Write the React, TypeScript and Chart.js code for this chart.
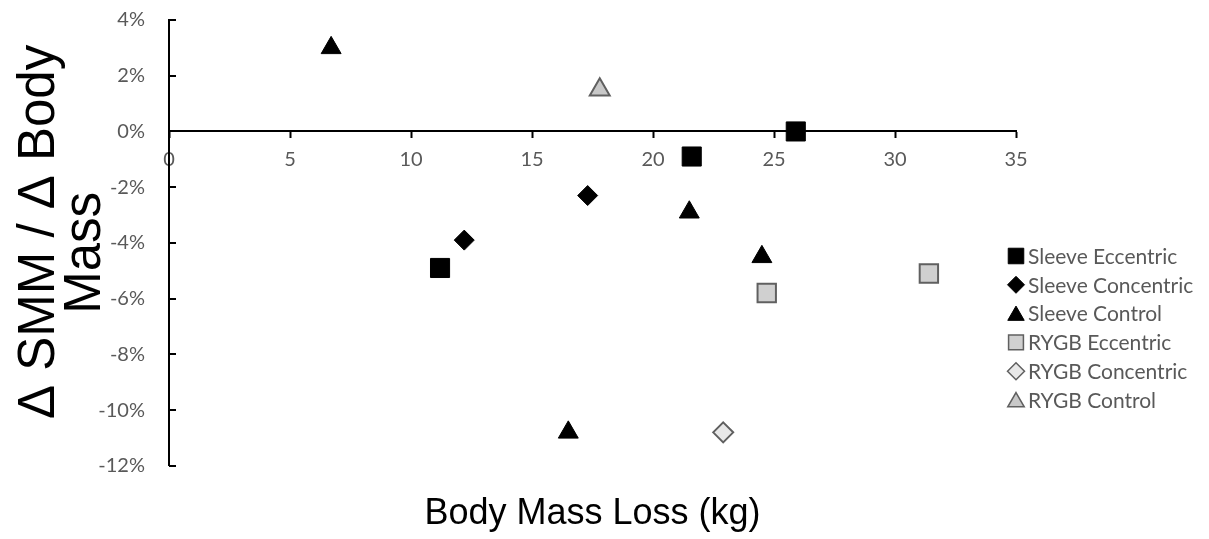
import React, { useEffect, useRef } from "react";
import { Chart, registerables, PointElement } from "chart.js";

Chart.register(...registerables);

// ---- data (x: body mass loss kg, y: Δ SMM / Δ body mass in %) ----
const sleeveEccentricX = [11.2, 21.6, 25.9];
const sleeveEccentricY = [-4.9, -0.9, 0.0];
const sleeveConcentricX = [12.2, 17.3];
const sleeveConcentricY = [-3.9, -2.3];
const sleeveControlX = [6.7, 21.5, 24.5, 16.5];
const sleeveControlY = [3.0, -2.9, -4.5, -10.8];
const rygbEccentricX = [24.7, 31.4];
const rygbEccentricY = [-5.8, -5.1];
const rygbConcentricX = [22.9];
const rygbConcentricY = [-10.8];
const rygbControlX = [17.8];
const rygbControlY = [1.5];

const seriesNames = [
  "Sleeve Eccentric",
  "Sleeve Concentric",
  "Sleeve Control",
  "RYGB Eccentric",
  "RYGB Concentric",
  "RYGB Control",
];

const xTitle = "Body Mass Loss (kg)";
const yTitleLines = ["Δ SMM / Δ Body", "Mass"];
const xMin = 0, xMax = 35, xStep = 5;
const yMin = -12, yMax = 4, yStep = 2;

const TICK_FONT = "Lato";
const TICK_COLOR = "#595959";
const GREY_BORDER = "#606060";

const pts = (xs: number[], ys: number[]) => xs.map((x, i) => ({ x, y: ys[i] }));

type Style = { pointStyle: any; radius: number; bg: string; border: string; bw: number; lr: number };
const styles: Style[] = [
  { pointStyle: "rect", radius: 13.5, bg: "#000000", border: "#000000", bw: 1, lr: 11 },
  { pointStyle: "rectRot", radius: 10, bg: "#000000", border: "#000000", bw: 1, lr: 8.5 },
  { pointStyle: "triangle", radius: 11.5, bg: "#000000", border: "#000000", bw: 1, lr: 9.5 },
  { pointStyle: "rect", radius: 13, bg: "#d0d0d0", border: GREY_BORDER, bw: 2, lr: 10.5 },
  { pointStyle: "rectRot", radius: 10, bg: "#e8e8e8", border: GREY_BORDER, bw: 2, lr: 8.5 },
  { pointStyle: "triangle", radius: 11.5, bg: "#c8c8c8", border: GREY_BORDER, bw: 2, lr: 9.5 },
];

const yTicksInside = {
  id: "yTicksInside",
  afterDatasetsDraw(chart: any) {
    const { ctx } = chart;
    const ys = chart.scales.y;
    ctx.save();
    ctx.strokeStyle = "#000";
    ctx.lineWidth = 2;
    for (let v = yMin; v <= yMax; v += yStep) {
      const py = Math.round(ys.getPixelForValue(v));
      ctx.beginPath();
      ctx.moveTo(ys.right, py);
      ctx.lineTo(ys.right + 7, py);
      ctx.stroke();
    }
    ctx.restore();
  },
};

const yTitlePlugin = {
  id: "yTitlePlugin",
  afterDraw(chart: any) {
    const { ctx, chartArea } = chart;
    const cy = (chartArea.top + chartArea.bottom) / 2;
    ctx.save();
    ctx.fillStyle = "#000";
    ctx.font = "51px 'Liberation Sans', Arial, sans-serif";
    ctx.textAlign = "center";
    ctx.textBaseline = "middle";
    const xs = [40, 86];
    const offs = [-11, 10];
    yTitleLines.forEach((line, i) => {
      ctx.save();
      ctx.translate(xs[i], cy + offs[i]);
      ctx.rotate(-Math.PI / 2);
      ctx.fillText(line, 0, 0);
      ctx.restore();
    });
    ctx.restore();
  },
};

const legendPlugin = {
  id: "customLegend",
  afterDraw(chart: any) {
    const { ctx } = chart;
    const markerX = 1016;
    const textX = 1028;
    const top = 256;
    const gap = 28.8;
    ctx.save();
    ctx.font = `21px ${TICK_FONT}, sans-serif`;
    ctx.textAlign = "left";
    ctx.textBaseline = "middle";
    seriesNames.forEach((name, i) => {
      const st = styles[i];
      const y = top + i * gap;
      const p: any = new (PointElement as any)({});
      p.x = markerX;
      p.y = y + (st.pointStyle === "triangle" ? 2 : 0);
      p.options = {
        pointStyle: st.pointStyle,
        radius: st.lr,
        rotation: 0,
        backgroundColor: st.bg,
        borderColor: st.border,
        borderWidth: st.bw === 2 ? 1.5 : 1,
      };
      p.draw(ctx);
      ctx.fillStyle = TICK_COLOR;
      ctx.fillText(name, textX, y + 1);
    });
    ctx.restore();
  },
};

export default function App() {
  const ref = useRef<HTMLCanvasElement | null>(null);

  useEffect(() => {
    if (!ref.current) return;
    const data = [
      pts(sleeveEccentricX, sleeveEccentricY),
      pts(sleeveConcentricX, sleeveConcentricY),
      pts(sleeveControlX, sleeveControlY),
      pts(rygbEccentricX, rygbEccentricY),
      pts(rygbConcentricX, rygbConcentricY),
      pts(rygbControlX, rygbControlY),
    ];
    const chart = new Chart(ref.current, {
      type: "scatter",
      data: {
        datasets: seriesNames.map((name, i) => ({
          label: name,
          data: data[i],
          pointStyle: styles[i].pointStyle,
          pointRadius: styles[i].radius,
          pointHoverRadius: styles[i].radius,
          backgroundColor: styles[i].bg,
          borderColor: styles[i].border,
          borderWidth: styles[i].bw,
          showLine: false,
        })),
      },
      options: {
        animation: false,
        responsive: false,
        devicePixelRatio: 1,
        layout: { padding: { left: 0, right: 193, top: 20, bottom: 0 } },
        plugins: {
          legend: { display: false },
          tooltip: { enabled: false },
          title: {
            display: true,
            position: "bottom",
            fullSize: false,
            text: xTitle,
            color: "#000",
            font: { family: "'Liberation Sans', Arial, sans-serif", size: 36, weight: "normal" },
            padding: { top: 27, bottom: 3 },
          },
        },
        scales: {
          x: {
            type: "linear",
            position: { y: 0 } as any,
            min: xMin,
            max: xMax,
            afterFit: (s: any) => {
              s.paddingLeft = 0;
              s.paddingRight = 0;
            },
            ticks: {
              stepSize: xStep,
              color: TICK_COLOR,
              font: { family: TICK_FONT, size: 20 },
              padding: 10,
            },
            grid: {
              drawOnChartArea: false,
              drawTicks: true,
              tickLength: 6,
              tickColor: "#000",
              tickWidth: 2,
            },
            border: { display: true, color: "#000", width: 2 },
          },
          y: {
            type: "linear",
            min: yMin,
            max: yMax,
            afterFit: (s: any) => {
              s.width = 169;
              s.paddingTop = 0;
              s.paddingBottom = 0;
            },
            ticks: {
              stepSize: yStep,
              color: TICK_COLOR,
              font: { family: TICK_FONT, size: 20 },
              padding: 24,
              callback: (v: any) => `${v}%`,
            },
            grid: { drawOnChartArea: false, drawTicks: false },
            border: { display: true, color: "#000", width: 2 },
          },
        },
      },
      plugins: [yTicksInside, yTitlePlugin, legendPlugin],
    });
    return () => chart.destroy();
  }, []);

  return (
    <div style={{ position: "fixed", left: 0, top: 0, width: 1209, height: 539, background: "#fff" }}>
      <canvas ref={ref} width={1209} height={539} style={{ width: 1209, height: 539, display: "block" }} />
    </div>
  );
}
